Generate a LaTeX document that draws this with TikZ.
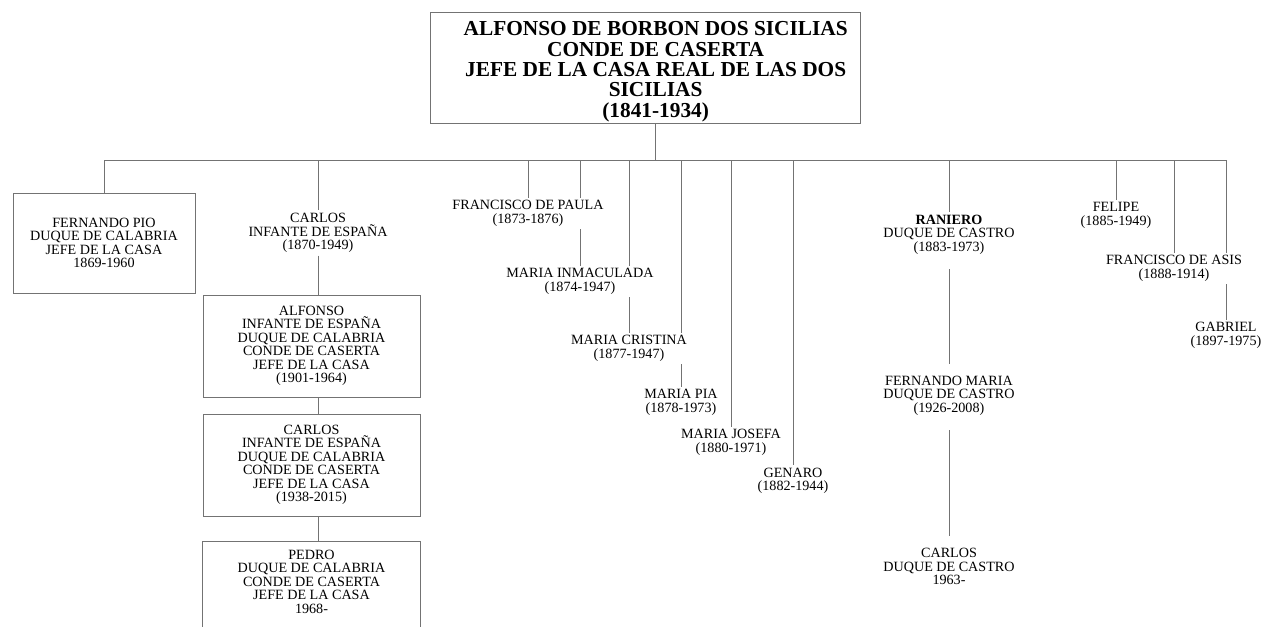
\documentclass[tikz,border=0pt]{standalone}
\usepackage{fontspec}
\setmainfont{Liberation Serif}
\usetikzlibrary{backgrounds}
\begin{document}
\begin{tikzpicture}[x=0.75pt,y=-0.75pt,
    lbl/.style={align=center,fill=white,inner sep=2pt,font=\fontsize{10.6}{10.1}\selectfont},
    famvbox/.style={lbl,draw=black!55,line width=0.6pt,minimum width=162.75pt,minimum height=76.5pt},
    conn/.style={draw=black!55,line width=0.6pt},
    longconn/.style={conn,shorten <=9pt,shorten >=7pt}]
      \useasboundingbox (0,0) rectangle (1265,626);
      \node[draw=black!55,line width=0.6pt,fill=white,inner sep=0pt,minimum width=322.5pt,minimum height=83pt,font=\bfseries\fontsize{16}{15}\selectfont] (alfonsoI) at (645,67.5)
        {\begin{tabular}{@{\hspace{16pt}}c@{}}\rule{0pt}{18pt}ALFONSO DE BORBON DOS SICILIAS\\CONDE DE CASERTA\\JEFE DE LA CASA REAL DE LAS DOS\\SICILIAS\\(1841-1934)\end{tabular}};
      \coordinate (bar) at (655,160);
      \node[famvbox,minimum width=136.5pt,minimum height=75pt] (fpio) at (104,243) {FERNANDO PIO\\DUQUE DE CALABRIA\\JEFE DE LA CASA\\1869-1960};
      \node[lbl] (carlosI) at (318,233) {CARLOS\\INFANTE DE ESPAÑA\\(1870-1949)};
      \node[famvbox] (alfonsoII) at (311.5,346) {ALFONSO\\INFANTE DE ESPAÑA\\DUQUE DE CALABRIA\\CONDE DE CASERTA\\JEFE DE LA CASA\\(1901-1964)};
      \node[famvbox] (carlosII) at (311.5,465) {CARLOS\\INFANTE DE ESPAÑA\\DUQUE DE CALABRIA\\CONDE DE CASERTA\\JEFE DE LA CASA\\(1938-2015)};
      \node[lbl,minimum width=162.75pt,minimum height=59.25pt] (pedro) at (311.5,581.5) {PEDRO\\DUQUE DE CALABRIA\\CONDE DE CASERTA\\JEFE DE LA CASA\\1968-};
      \node[lbl] (fpaula) at (528,213.5) {FRANCISCO DE PAULA\\(1873-1876)};
      \node[lbl] (inmaculada) at (580,281.5) {MARIA INMACULADA\\(1874-1947)};
      \node[lbl] (cristina) at (629,348.5) {MARIA CRISTINA\\(1877-1947)};
      \node[lbl] (pia) at (681,402.5) {MARIA PIA\\(1878-1973)};
      \node[lbl] (josefa) at (731,442.5) {MARIA JOSEFA\\(1880-1971)};
      \node[lbl] (genaro) at (793,481) {GENARO\\(1882-1944)};
      \node[lbl] (raniero) at (949,234.5) {\textbf{RANIERO}\\DUQUE DE CASTRO\\(1883-1973)};
      \node[lbl] (fmaria) at (949,395.5) {FERNANDO MARIA\\DUQUE DE CASTRO\\(1926-2008)};
      \node[lbl] (carlosIII) at (949,566.5) {CARLOS\\DUQUE DE CASTRO\\1963-};
      \node[lbl] (felipe) at (1116,215.5) {FELIPE\\(1885-1949)};
      \node[lbl] (fasis) at (1174,268.5) {FRANCISCO DE ASIS\\(1888-1914)};
      \node[lbl] (gabriel) at (1226,335.5) {GABRIEL\\(1897-1975)};
      \draw[conn] ([yshift=-5pt]pedro.south west) |- (pedro.north east) -- ([yshift=-5pt]pedro.south east);
      \begin{scope}[on background layer]
        \draw[conn] (bar |- alfonsoI.south) -- (bar);
        \draw[conn] (fpio.north |- bar) -- (gabriel.north |- bar);
        \foreach \n in {fpio,carlosI,fpaula,inmaculada,cristina,pia,josefa,genaro,raniero,felipe,fasis,gabriel}
          \draw[conn] (\n.north |- bar) -- (\n.north);
        \draw[conn] (carlosI.south) -- (carlosI.south |- alfonsoII.north);
        \draw[conn] (carlosI |- alfonsoII.south) -- (carlosI |- carlosII.north);
        \draw[conn] (carlosI |- carlosII.south) -- (carlosI |- pedro.north);
        \draw[longconn] (raniero) -- (fmaria);
        \draw[longconn] (fmaria) -- (carlosIII);
      \end{scope}
\end{tikzpicture}
\end{document}
